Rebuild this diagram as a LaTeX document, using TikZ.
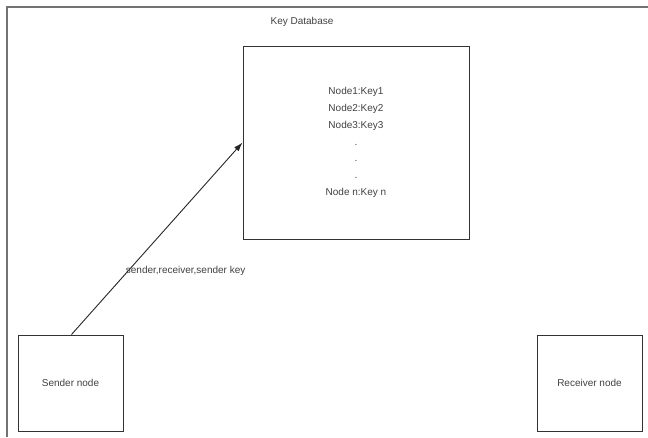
\documentclass[tikz,border=0pt]{standalone}
\usepackage{fontspec}
\setmainfont{Liberation Sans}
\usetikzlibrary{positioning}
\usetikzlibrary{arrows,arrows.meta}

\begin{document}
\begin{tikzpicture}[x=1pt,y=-1pt,>={Latex[length=9pt,width=6pt]},
	box/.style={draw=black!80, line width=1pt, inner sep=0pt, align=center,
		font=\fontsize{10}{16.8}\selectfont, text=black!75},
	lbl/.style={inner sep=0pt, font=\fontsize{10}{12}\selectfont, text=black!75}]
		\useasboundingbox (0,0) rectangle (648,437);
		\draw[black!55, line width=1.4pt] (7,437) -- (7,7) -- (648,7);
		\node (db) [box, minimum width=226, minimum height=193] at (356,142.5)
			{Node1:Key1\\Node2:Key2\\Node3:Key3\\.\\.\\.\\Node n:Key n};
		\node (title) [lbl] at (302,22) {Key Database};
		\node (snd) [box, minimum width=105, minimum height=96] at (70.5,383) {Sender node};
		\node (rcv) [box, minimum width=105, minimum height=96] at (589.5,383) {Receiver node};
		\draw[->, black!85, line width=0.9pt] ([xshift=54]snd.north west) -- (db.west)
			node (msg) [lbl, pos=0.333, anchor=west, xshift=-3] {sender,receiver,sender key};
		\end{tikzpicture}
\end{document}
